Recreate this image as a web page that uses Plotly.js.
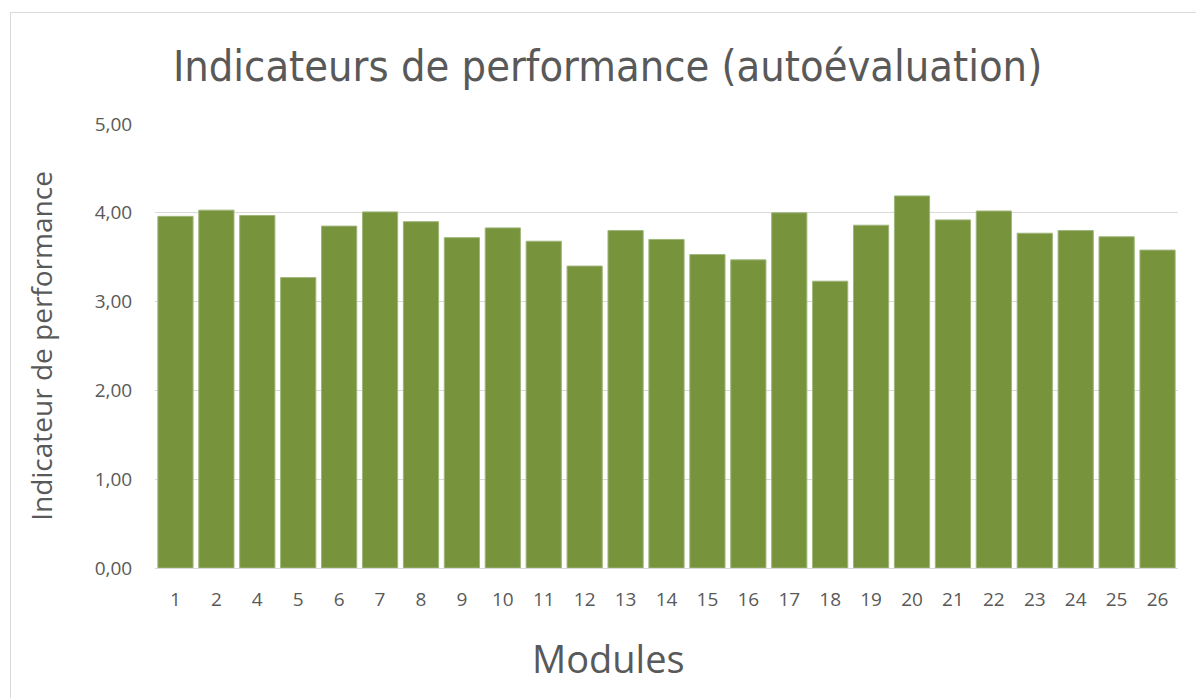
<!DOCTYPE html>
<html>
<head>
<meta charset="utf-8">
<script src="https://cdn.plot.ly/plotly-3.0.1.min.js"></script>
<style>
html,body{margin:0;padding:0;background:#fff;}
#chart{position:absolute;left:0;top:0;width:1196px;height:698px;}
#frame{position:absolute;left:10px;top:12px;width:1200px;height:700px;border-left:1px solid #d9d9d9;border-top:1px solid #d9d9d9;pointer-events:none;}
</style>
</head>
<body>
<div id="chart"></div>
<div id="frame"></div>
<script>
const modules = ["1","2","4","5","6","7","8","9","10","11","12","13","14","15","16","17","18","19","20","21","22","23","24","25","26"];
const scores = [3.96,4.03,3.97,3.27,3.85,4.01,3.90,3.72,3.83,3.68,3.40,3.80,3.70,3.53,3.47,4.00,3.23,3.86,4.19,3.92,4.02,3.77,3.80,3.73,3.58];
const yTicks = [0,1,2,3,4,5];
const yTickLabels = ["0,00","1,00","2,00","3,00","4,00","5,00"];
const xTitle = "Modules";

const txt = "#595959";
const font = "'Open Sans', 'DejaVu Sans', sans-serif";

Plotly.newPlot("chart", [{
  type: "bar",
  x: modules,
  y: scores,
  marker: {color: "#77933C", line: {color: "#9fb67a", width: 1}},
  hoverinfo: "x+y"
}], {
  width: 1196, height: 698,
  paper_bgcolor: "#fff", plot_bgcolor: "#fff",
  margin: {l: 155, r: 18, t: 124, b: 130},
  bargap: 0.14,
  showlegend: false,
  font: {family: font, color: txt},
  title: {
    text: "Indicateurs de performance (autoévaluation)",
    font: {family: "'Liberation Sans Narrow', 'DejaVu Sans Condensed', 'Open Sans', sans-serif", size: 43, color: txt},
    x: 0.508, xanchor: "center", xref: "container",
    y: 0.905, yanchor: "middle", yref: "container"
  },
  annotations: [{
    text: xTitle, showarrow: false,
    xref: "paper", yref: "paper",
    x: 0.443, y: -0.203, xanchor: "center", yanchor: "middle",
    font: {family: font, size: 38, color: txt}
  }],
  xaxis: {
    type: "category",
    showgrid: false, showline: false, zeroline: false,
    ticks: "outside", ticklen: 14, tickcolor: "rgba(0,0,0,0)",
    tickfont: {family: font, size: 19, color: txt}
  },
  yaxis: {
    range: [0, 5],
    tickvals: yTicks, ticktext: yTickLabels,
    showgrid: true, gridcolor: "#d9d9d9", gridwidth: 1,
    zeroline: true, zerolinecolor: "#d9d9d9", zerolinewidth: 1,
    showline: false,
    ticks: "outside", ticklen: 18, tickcolor: "rgba(0,0,0,0)",
    tickfont: {family: font, size: 19, color: txt},
    title: {text: "Indicateur de performance", font: {family: font, size: 28, color: txt}, standoff: 33}
  }
}, {displayModeBar: false, staticPlot: false});
</script>
</body>
</html>
